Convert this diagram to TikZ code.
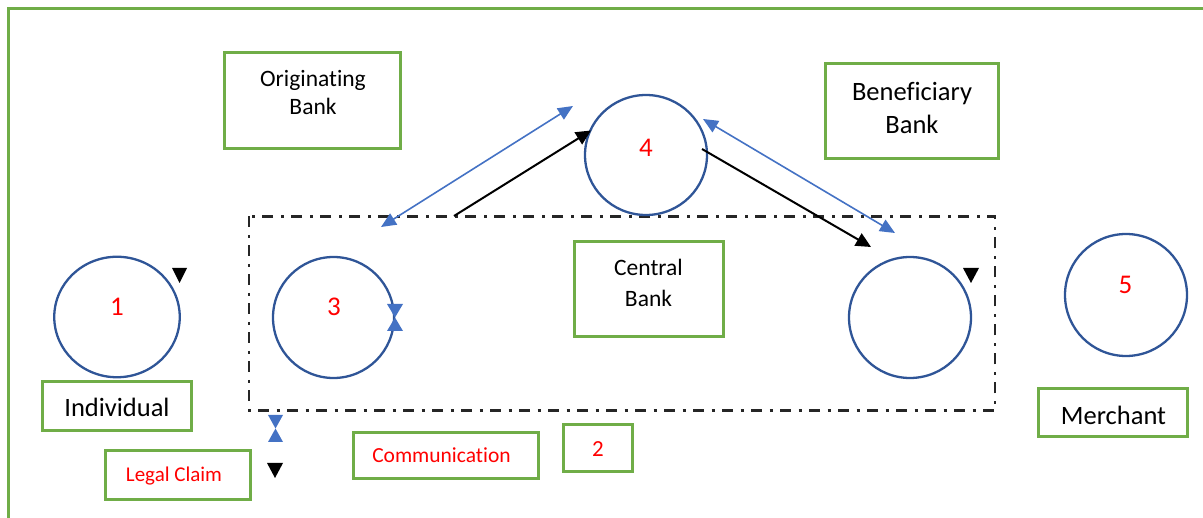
\documentclass[tikz,border=0pt]{standalone}
\usepackage{fontspec}
\setmainfont{Carlito}[Ligatures={NoCommon,NoContextual,NoRare}]
\usetikzlibrary{arrows.meta,shapes.geometric}
\definecolor{framegreen}{HTML}{70AD47}
\definecolor{circblue}{HTML}{2F5597}
\definecolor{arrblue}{HTML}{4472C4}
\definecolor{numred}{HTML}{FF0000}
\definecolor{dashgray}{HTML}{262626}
\begin{document}
\begin{tikzpicture}[x=1pt,y=-1pt,
  gbox/.style={draw=framegreen, line width=2.6pt, inner sep=0pt},
  ring/.style={ellipse, draw=circblue, line width=2.3pt, inner sep=0pt},
  numtxt/.style={text=numred, font=\fontsize{27}{32}\selectfont, inner sep=0pt},
  lbl/.style={align=center, inner sep=0pt},
  redlbl/.style={text=numred, inner sep=0pt},
  tri/.style={fill=black},
  hour/.style={fill=arrblue},
  barrow/.style={draw=arrblue, line width=1.6pt, {Triangle[length=15pt,width=13pt]}-{Triangle[length=15pt,width=13pt]}},
  karrow/.style={draw=black, line width=2pt, -{Triangle[length=15pt,width=14pt]}},
  zone/.style={draw=dashgray, line width=2.7pt, dash pattern=on 11pt off 7.5pt on 3pt off 7.5pt}
]
\useasboundingbox (0,0) rectangle (1203,518);
% outer frame
\draw[draw=framegreen, line width=3pt] (8.5,518) -- (8.5,8.5) -- (1203,8.5);
% dashed zone
\draw[zone] (249,216.5) rectangle (995,410.5);
% circles
\node[ring, minimum width=125.5pt, minimum height=120.5pt] (c1) at (117,317) {};
\node[ring, minimum width=121pt, minimum height=121pt] (c3) at (333.5,317.5) {};
\node[ring, minimum width=122pt, minimum height=120pt] (c4) at (646,155) {};
\node[ring, minimum width=122pt, minimum height=121pt] (cb) at (910,317.5) {};
\node[ring, minimum width=122pt, minimum height=122pt] (c5) at (1126,295) {};
% numbers
\node[numtxt] (n1) at (117,307) {1};
\node[numtxt] (n3) at (334,307) {3};
\node[numtxt] (n4) at (646,148) {4};
\node[numtxt] (n5) at (1125.5,284.5) {5};
% boxes
\node[gbox, minimum width=176.4pt, minimum height=96.4pt] (orig) at (312.5,100.5) {};
\node[gbox, minimum width=173.4pt, minimum height=95.4pt] (benef) at (912,111) {};
\node[gbox, minimum width=149.4pt, minimum height=95.4pt] (central) at (649,289) {};
\node[gbox, minimum width=149.4pt, minimum height=49.4pt] (indiv) at (117,406) {};
\node[gbox, minimum width=149.4pt, minimum height=48.4pt] (merch) at (1113,412.5) {};
\node[gbox, minimum width=145.4pt, minimum height=49.4pt] (legal) at (178,475) {};
\node[gbox, minimum width=185.4pt, minimum height=46.4pt] (comm) at (446,455.5) {};
\node[gbox, minimum width=69.4pt, minimum height=47.4pt] (two) at (598,448) {};
% box texts
\node[lbl, font=\fontsize{23.5}{28}\selectfont] (origT) at (313,92.5) {Originating\\Bank};
\node[lbl, font=\fontsize{26.5}{33}\selectfont] (benT) at (912,108) {Beneficiary\\Bank};
\node[lbl, font=\fontsize{23.5}{31}\selectfont] (cenT) at (648.5,282.5) {Central\\Bank};
\node[lbl, font=\fontsize{26.5}{32}\selectfont] (indT) at (117,407.5) {Individual};
\node[lbl, font=\fontsize{26.5}{32}\selectfont] (merT) at (1113.5,415) {Merchant};
\node[redlbl, font=\fontsize{21}{25}\selectfont] (legT) at (174,476) {Legal Claim};
\node[redlbl, font=\fontsize{21.5}{26}\selectfont] (comT) at (441.5,455) {Communication};
\node[redlbl, font=\fontsize{23}{28}\selectfont] (twoT) at (598,449.5) {2};
% connector ends
\coordinate (b1s) at (381,227);
\coordinate (b1e) at (573,106);
\coordinate (k1s) at (454,216);
\coordinate (k1e) at (591,130.5);
\coordinate (k2s) at (702,149);
\coordinate (k2e) at (871,247);
\coordinate (b2s) at (703,119);
\coordinate (b2e) at (895,233);
\draw[barrow] (b1s) -- (b1e);
\draw[karrow] (k1s) -- (k1e);
\draw[karrow] (k2s) -- (k2e);
\draw[barrow] (b2s) -- (b2e);
% loose black triangles
\fill[tri] (172,268) -- (187,268) -- (179.5,283) -- cycle;
\fill[tri] (963,268) -- (979,268) -- (971,283) -- cycle;
\fill[tri] (267,463) -- (283,463) -- (275,478) -- cycle;
% blue hourglasses
\fill[hour] (387,304) -- (403,304) -- (395,317.5) -- cycle;
\fill[hour] (387,331) -- (403,331) -- (395,317.5) -- cycle;
\fill[hour] (268,415) -- (283,415) -- (275.5,428.5) -- cycle;
\fill[hour] (268,442) -- (283,442) -- (275.5,428.5) -- cycle;
\end{tikzpicture}
\end{document}
